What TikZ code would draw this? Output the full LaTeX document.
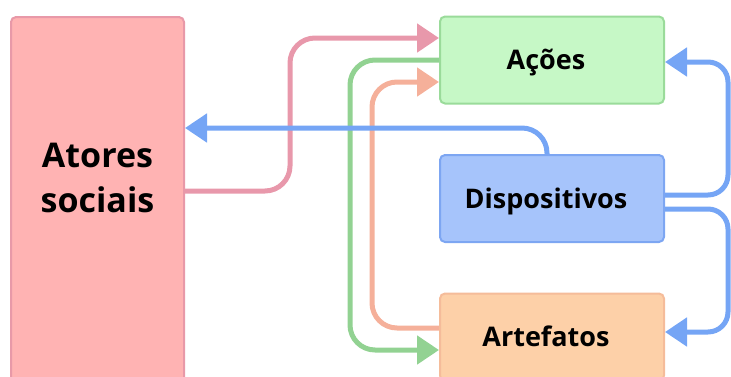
\documentclass[tikz,border=0pt]{standalone}
\usepackage{fontspec}
\setmainfont{Open Sans}
\usetikzlibrary{arrows.meta}
\definecolor{pinkfill}{HTML}{FFB3B3}
\definecolor{pinkline}{HTML}{E899A8}
\definecolor{greenfill}{HTML}{C6F8C6}
\definecolor{greenline}{HTML}{9ADB9A}
\definecolor{bluefill}{HTML}{A6C4FB}
\definecolor{blueline}{HTML}{7DA6F2}
\definecolor{orangefill}{HTML}{FDD0A8}
\definecolor{orangeline}{HTML}{F5BC9A}
\definecolor{arrowpink}{HTML}{E898AB}
\definecolor{arrowgreen}{HTML}{92D292}
\definecolor{arroworange}{HTML}{F5B09A}
\definecolor{arrowblue}{HTML}{75A5F5}
\begin{document}
\begin{tikzpicture}[x=1pt,y=-1pt,
  box/.style={draw, line width=2pt, rounded corners=5pt, minimum width=224pt, minimum height=87pt,
    inner sep=0pt, font=\bfseries\fontsize{27}{32}\selectfont, text height=19pt, text depth=0pt,
    execute at end node={\hspace*{12pt}}},
  conn/.style={line width=5pt, rounded corners=25pt},
  connr/.style={line width=5pt, rounded corners=20pt},
  tip/.style={-{Triangle[length=22pt,width=28pt]}}
]
\useasboundingbox (0,0) rectangle (731,376);
\begin{scope}
\clip (0,0) rectangle (731,376);
% boxes
\node[box, draw=pinkline, fill=pinkfill, minimum width=173pt, minimum height=380pt, execute at end node={}] (atores) at (97.5,207) {};
\node[inner sep=0pt, align=center, font=\bfseries\fontsize{34}{45}\selectfont] (atoresl) at (97.5,178) {Atores\\sociais};
\node[box, draw=greenline, fill=greenfill] (acoes) at (552,60) {Ações};
\node[box, draw=blueline, fill=bluefill] (disp) at (552,198.5) {Dispositivos};
\node[box, draw=orangeline, fill=orangefill] (artef) at (552,337) {Artefatos};
% helper levels
\coordinate (yA) at (0,191);
\coordinate (yB) at (0,38);
\coordinate (yC) at (0,60);
\coordinate (yD) at (0,350);
\coordinate (yE) at (0,328);
\coordinate (yF) at (0,82);
\coordinate (yG) at (0,128);
\coordinate (yH) at (0,195);
\coordinate (yI) at (0,62);
\coordinate (yJ) at (0,209);
\coordinate (yK) at (0,332);
\coordinate (xB) at (547,0);
% connectors
\draw[conn, arrowpink, tip] (atores.east |- yA) -- (290,191) -- (290,38) -- (acoes.west |- yB);
\draw[conn, arrowgreen, tip] (acoes.west |- yC) -- (350,60) -- (350,350) -- (artef.west |- yD);
\draw[conn, arroworange, tip] (artef.west |- yE) -- (372,328) -- (372,82) -- (acoes.west |- yF);
\draw[conn, arrowblue, tip] (xB |- disp.north) -- (547,128) -- (atores.east |- yG);
\draw[connr, arrowblue, tip] (disp.east |- yH) -- (728,195) -- (728,62) -- (acoes.east |- yI);
\draw[connr, arrowblue, tip] (disp.east |- yJ) -- (728,209) -- (728,332) -- (artef.east |- yK);
\end{scope}
\end{tikzpicture}
\end{document}
